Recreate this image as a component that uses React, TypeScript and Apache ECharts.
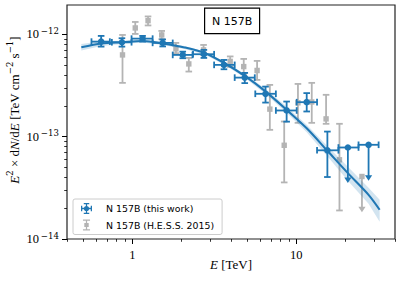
import React, { useEffect, useRef } from 'react';
import * as echarts from 'echarts';

const BLUE = '#1f77b4';
const GREY = '#b4b4b4';
const SERIF = 'Liberation Serif';
const SUPF = 'DejaVu Serif';
const SANS = 'DejaVu Sans';

// N 157B (this work)
const blueE = [0.646, 0.865, 1.156, 1.533, 2.032, 2.733, 3.623, 4.852, 6.495, 8.735, 11.58, 15.48, 20.64, 27.6];
const blueELo = [0.564, 0.751, 0.99, 1.331, 1.765, 2.347, 3.156, 4.213, 5.625, 7.51, 10.06, 13.39, 18.08, 23.97];
const blueEHi = [0.73, 0.99, 1.331, 1.765, 2.33, 3.156, 4.213, 5.586, 7.51, 10.06, 13.39, 18.08, 23.97, 31.78];
const blueF = [8.47e-13, 8.35e-13, 9.06e-13, 8.23e-13, 6.28e-13, 6.38e-13, 5.02e-13, 3.77e-13, 2.62e-13, 1.8e-13, 2.17e-13, 7.35e-14, 7.83e-14, 8.32e-14];
const blueFLo = [7.57e-13, 7.57e-13, 8.47e-13, 7.6e-13, 5.83e-13, 5.87e-13, 4.55e-13, 3.33e-13, 2.15e-13, 1.4e-13, 1.76e-13, 4.03e-14, 3.52e-14, 3.7e-14];
const blueFHi = [9.63e-13, 9.14e-13, 9.63e-13, 8.9e-13, 6.76e-13, 7.03e-13, 5.61e-13, 4.19e-13, 3.08e-13, 2.2e-13, 2.66e-13, 1.12e-13, 7.83e-14, 8.32e-14];
const blueUL = [0, 0, 0, 0, 0, 0, 0, 0, 0, 0, 0, 0, 1, 1];

// N 157B (H.E.S.S. 2015)
const hessE = [0.872, 1.043, 1.248, 1.512, 1.846, 2.212, 2.721, 3.955, 4.783, 5.77, 6.901, 8.443, 10.24, 12.43, 15.2, 18.34, 25.15];
const hessF = [6.28e-13, 1.152e-12, 1.357e-12, 9.84e-13, 7.19e-13, 5.13e-13, 7.03e-13, 5.43e-13, 4.83e-13, 4.43e-13, 1.855e-13, 8.23e-14, 2.14e-13, 2.18e-13, 1.49e-13, 5.94e-14, 4.08e-14];
const hessFLo = [3.35e-13, 1.007e-12, 1.219e-12, 8.94e-13, 6.53e-13, 4.32e-13, 6.28e-13, 4.8e-13, 4.1e-13, 3.58e-13, 1.165e-13, 3.57e-14, 1.363e-13, 1.363e-13, 1.334e-13, 1.9e-14, 1.82e-14];
const hessFHi = [9.84e-13, 1.318e-12, 1.492e-12, 1.077e-12, 8.23e-13, 5.87e-13, 7.86e-13, 6.07e-13, 5.74e-13, 5.49e-13, 3.2e-13, 1.404e-13, 3.27e-13, 3.35e-13, 2.56e-13, 1.334e-13, 4.08e-14];
const hessUL = [0, 0, 0, 0, 0, 0, 0, 0, 0, 0, 0, 0, 0, 0, 0, 0, 1];

// spectral model and its uncertainty band
const fitE = [0.489, 0.649, 0.872, 1.156, 1.533, 2.082, 2.76, 3.66, 4.852, 6.432, 8.735, 11.58, 15.48, 20.64, 27.6, 32.24];
const fitF = [7.47e-13, 8.13e-13, 8.36e-13, 8.6e-13, 8.13e-13, 7.43e-13, 6.57e-13, 5.21e-13, 3.92e-13, 2.8e-13, 1.826e-13, 1.205e-13, 7.27e-14, 4.4e-14, 2.7e-14, 1.93e-14];
const fitLo = [6.95e-13, 7.69e-13, 8.04e-13, 8.32e-13, 7.86e-13, 7.19e-13, 6.35e-13, 5.02e-13, 3.75e-13, 2.64e-13, 1.707e-13, 1.101e-13, 6.42e-14, 3.7e-14, 2.21e-14, 1.475e-14];
const fitHi = [8.04e-13, 8.54e-13, 8.66e-13, 8.9e-13, 8.41e-13, 7.69e-13, 6.8e-13, 5.4e-13, 4.1e-13, 2.96e-13, 1.953e-13, 1.303e-13, 8.04e-14, 5.07e-14, 3.17e-14, 2.42e-14];

// axes
const xMin = 0.4;
const xMax = 40;
const yMin = 1e-14;
const yMax = 1.93e-12;
const xMajor = [1, 10];
const xMinor = [0.4, 0.5, 0.6, 0.7, 0.8, 0.9, 2, 3, 4, 5, 6, 7, 8, 9, 20, 30, 40];
const yMajor = [1e-14, 1e-13, 1e-12];
const yMinor = [2e-14, 3e-14, 4e-14, 5e-14, 6e-14, 7e-14, 8e-14, 9e-14, 2e-13, 3e-13, 4e-13, 5e-13, 6e-13, 7e-13, 8e-13, 9e-13];

const nameThis = 'N 157B (this work)';
const nameHess = 'N 157B (H.E.S.S. 2015)';
const titleText = 'N 157B';

const blueIcon =
  'path://M0 6.2H14V7.8H0Z M0 3.5H1.6V10.5H0Z M12.4 3.5H14V10.5H12.4Z M6.2 0H7.8V14H6.2Z M3.5 0H10.5V1.6H3.5Z M3.5 12.4H10.5V14H3.5Z M10.3 7A3.3 3.3 0 1 1 3.7 7A3.3 3.3 0 1 1 10.3 7Z';
const greyIcon =
  'path://M0 0 M14 14 M2.5 0H11.5V1.6H2.5Z M2.5 12.4H11.5V14H2.5Z M6.2 0H7.8V14H6.2Z M4.2 4.3H9.8V9.7H4.2Z';

function errRender(color: string, marker: 'circle' | 'square', withX: boolean) {
  return (params: any, api: any) => {
    const e = api.value(0);
    const elo = api.value(1);
    const ehi = api.value(2);
    const f = api.value(3);
    const flo = api.value(4);
    const fhi = api.value(5);
    const ul = api.value(6);
    const c = api.coord([e, f]);
    const yLo = api.coord([e, flo])[1];
    const yHi = api.coord([e, fhi])[1];
    const st = { stroke: color, lineWidth: 1.8, fill: null };
    const cap = 3.3;
    const ch: any[] = [];
    ch.push({ type: 'line', shape: { x1: c[0], y1: yHi, x2: c[0], y2: ul ? yLo - 3 : yLo }, style: st });
    if (ul) {
      ch.push({
        type: 'polygon',
        shape: { points: [[c[0] - 3.6, yLo - 5.5], [c[0] + 3.6, yLo - 5.5], [c[0], yLo]] },
        style: { fill: color },
      });
    } else {
      ch.push({ type: 'line', shape: { x1: c[0] - cap, y1: yHi, x2: c[0] + cap, y2: yHi }, style: st });
      ch.push({ type: 'line', shape: { x1: c[0] - cap, y1: yLo, x2: c[0] + cap, y2: yLo }, style: st });
    }
    if (withX) {
      const xl = api.coord([elo, f])[0];
      const xh = api.coord([ehi, f])[0];
      ch.push({ type: 'line', shape: { x1: xl, y1: c[1], x2: xh, y2: c[1] }, style: st });
      ch.push({ type: 'line', shape: { x1: xl, y1: c[1] - cap, x2: xl, y2: c[1] + cap }, style: st });
      ch.push({ type: 'line', shape: { x1: xh, y1: c[1] - cap, x2: xh, y2: c[1] + cap }, style: st });
    }
    if (marker === 'circle') {
      ch.push({ type: 'circle', shape: { cx: c[0], cy: c[1], r: 3.3 }, style: { fill: color } });
    } else {
      ch.push({ type: 'rect', shape: { x: c[0] - 2.7, y: c[1] - 2.7, width: 5.4, height: 5.4 }, style: { fill: color } });
    }
    return { type: 'group', children: ch };
  };
}

const tickRich = {
  r: { fontFamily: SERIF, fontSize: 12.5, lineHeight: 16, verticalAlign: 'middle', color: '#000' },
  s: { fontFamily: SUPF, fontSize: 8.6, lineHeight: 9, verticalAlign: 'top', color: '#000', padding: [0, 0, 0, 2] },
};

const titleRich = {
  r: { fontFamily: SERIF, fontSize: 13, lineHeight: 17, verticalAlign: 'middle', color: '#000' },
  i: { fontFamily: SERIF, fontSize: 13, fontStyle: 'italic', lineHeight: 17, verticalAlign: 'middle', color: '#000' },
  s: { fontFamily: SUPF, fontSize: 8.6, lineHeight: 9, verticalAlign: 'top', color: '#000' },
};

export default function App() {
  const ref = useRef<HTMLDivElement>(null);
  useEffect(() => {
    if (!ref.current) return;
    const chart = echarts.init(ref.current, undefined, { renderer: 'svg' });

    const blueData = blueE.map((e, i) => [e, blueELo[i], blueEHi[i], blueF[i], blueFLo[i], blueFHi[i], blueUL[i]]);
    const hessData = hessE.map((e, i) => [e, e, e, hessF[i], hessFLo[i], hessFHi[i], hessUL[i]]);

    const logAxisBase = { type: 'log', logBase: 10, splitLine: { show: false }, minorTick: { show: false }, minorSplitLine: { show: false } };

    chart.setOption({
      animation: false,
      grid: {
        left: 67,
        top: 5,
        width: 328,
        height: 234,
        show: true,
        borderColor: '#222',
        borderWidth: 1.2,
        backgroundColor: 'transparent',
      },
      xAxis: [
        {
          ...logAxisBase,
          min: xMin,
          max: xMax,
          axisLine: { show: false },
          axisTick: { show: true, length: 5, lineStyle: { color: '#000', width: 1 }, customValues: xMajor },
          axisLabel: {
            customValues: xMajor,
            formatter: (v: number) => String(Math.round(v)),
            margin: 9,
            fontFamily: SERIF,
            fontSize: 12.5,
            color: '#000',
          },
        },
        {
          ...logAxisBase,
          min: xMin,
          max: xMax,
          axisLine: { show: false },
          axisTick: { show: true, length: 2.8, lineStyle: { color: '#000', width: 0.8 }, customValues: xMinor },
          axisLabel: { show: false },
          position: 'bottom',
        },
      ],
      yAxis: [
        {
          ...logAxisBase,
          min: yMin,
          max: yMax,
          axisLine: { show: false },
          axisTick: { show: true, length: 5, lineStyle: { color: '#000', width: 1 }, customValues: yMajor },
          axisLabel: {
            customValues: yMajor,
            formatter: (v: number) => '{r|10}{s|−' + String(-Math.round(Math.log10(v))) + '}',
            margin: 8,
            rich: tickRich,
          },
        },
        {
          ...logAxisBase,
          min: yMin,
          max: yMax,
          axisLine: { show: false },
          axisTick: { show: true, length: 2.8, lineStyle: { color: '#000', width: 0.8 }, customValues: yMinor },
          axisLabel: { show: false },
          position: 'left',
        },
      ],
      legend: {
        left: 73,
        top: 199,
        orient: 'vertical',
        padding: [4, 8, 4, 8],
        itemGap: 5.5,
        itemWidth: 11,
        itemHeight: 11,
        selectedMode: false,
        backgroundColor: 'rgba(255,255,255,0.85)',
        borderColor: '#cccccc',
        borderWidth: 1,
        borderRadius: 2,
        z: 20,
        textStyle: { fontFamily: SANS, fontSize: 9.4, color: '#000', padding: [0, 0, 0, 9] },
        data: [
          { name: nameThis, icon: blueIcon, itemStyle: { color: BLUE } },
          { name: nameHess, icon: greyIcon, itemStyle: { color: GREY } },
        ],
      },
      graphic: [
        {
          type: 'group',
          left: 204,
          top: 7.5,
          z: 30,
          children: [
            { type: 'rect', shape: { x: 0, y: 0, width: 55, height: 25.5 }, style: { fill: '#fff', stroke: '#000', lineWidth: 1.2 } },
            {
              type: 'text',
              x: 27.5,
              y: 13,
              style: { text: titleText, fontFamily: SANS, fontSize: 11, fill: '#000', align: 'center', verticalAlign: 'middle' },
            },
          ],
        },
        {
          type: 'text',
          x: 14,
          y: 110,
          rotation: Math.PI / 2,
          z: 30,
          style: {
            text: '{i|E}{s|2}{r| × d}{i|N}{r|/d}{i|E}{r| [TeV cm}{s|−2}{r| s}{s|−1}{r|]}',
            rich: titleRich,
            fontFamily: SERIF,
            fontSize: 13,
            align: 'center',
            verticalAlign: 'middle',
            fill: '#000',
          },
        },
        {
          type: 'text',
          x: 231,
          y: 264,
          z: 30,
          style: {
            text: '{i|E}{r| [TeV]}',
            rich: titleRich,
            fontFamily: SERIF,
            fontSize: 13,
            align: 'center',
            verticalAlign: 'middle',
            fill: '#000',
          },
        },
      ],
      series: [
        {
          name: nameHess,
          type: 'custom',
          xAxisIndex: 0,
          yAxisIndex: 0,
          z: 2,
          itemStyle: { color: GREY },
          renderItem: errRender(GREY, 'square', false),
          encode: { x: 0, y: 3 },
          data: hessData,
        },
        {
          name: 'band',
          type: 'custom',
          xAxisIndex: 0,
          yAxisIndex: 0,
          z: 3,
          silent: true,
          renderItem: (params: any, api: any) => {
            if (params.dataIndex !== 0) return null;
            const up = fitE.map((e, i) => api.coord([e, fitHi[i]]));
            const lo = fitE.map((e, i) => api.coord([e, fitLo[i]])).reverse();
            return { type: 'polygon', shape: { points: up.concat(lo) }, style: { fill: 'rgba(31,119,180,0.2)' } };
          },
          encode: { x: 0, y: 1 },
          data: [[fitE[0], fitF[0]]],
        },
        {
          name: 'model',
          type: 'line',
          xAxisIndex: 0,
          yAxisIndex: 0,
          z: 4,
          symbol: 'none',
          smooth: 0.3,
          silent: true,
          lineStyle: { color: BLUE, width: 2.1 },
          data: fitE.map((e, i) => [e, fitF[i]]),
        },
        {
          name: nameThis,
          type: 'custom',
          xAxisIndex: 0,
          yAxisIndex: 0,
          z: 5,
          itemStyle: { color: BLUE },
          renderItem: errRender(BLUE, 'circle', true),
          encode: { x: 0, y: 3 },
          data: blueData,
        },
      ],
    });
    return () => chart.dispose();
  }, []);
  return <div ref={ref} style={{ position: 'absolute', left: 0, top: 0, width: 399, height: 283 }} />;
}
